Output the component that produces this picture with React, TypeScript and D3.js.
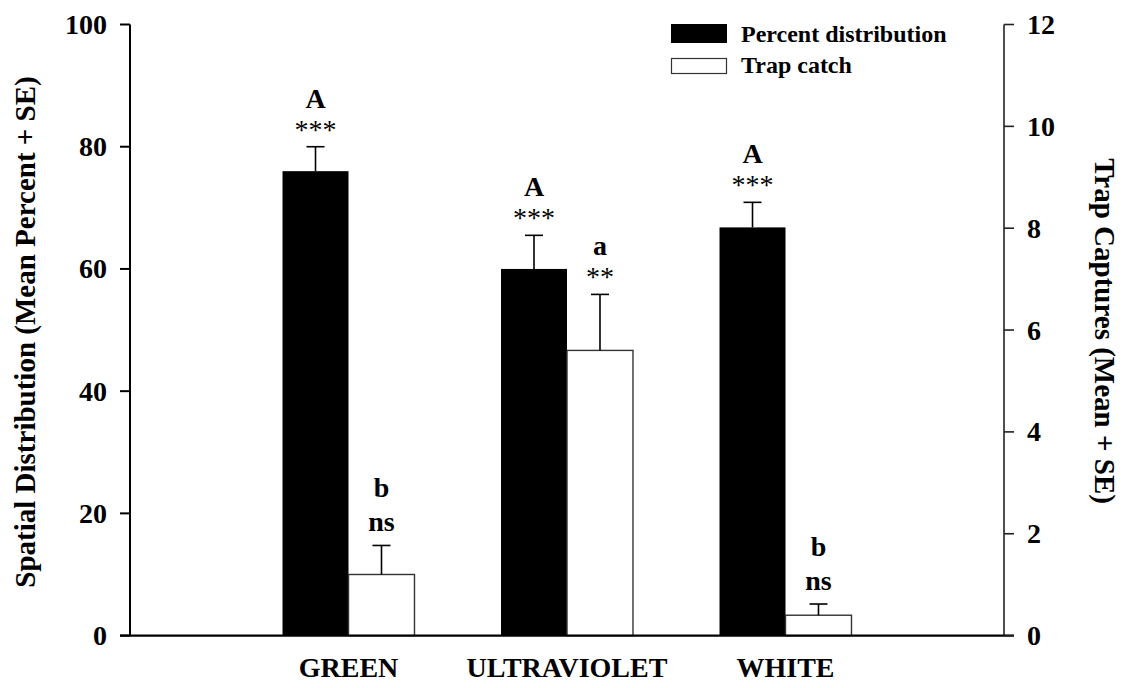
import React from "react";
import * as d3 from "d3";

// Data
const categories = ["GREEN", "ULTRAVIOLET", "WHITE"];
const percentMean = [76, 60, 66.8];
const percentSE = [4, 5.5, 4.1];
const trapMean = [1.2, 5.6, 0.4];
const trapSE = [0.57, 1.1, 0.22];
const percentLetters = ["A", "A", "A"];
const percentSig = ["***", "***", "***"];
const trapLetters = ["b", "a", "b"];
const trapSig = ["ns", "**", "ns"];
const leftTicks = [0, 20, 40, 60, 80, 100];
const rightTicks = [0, 2, 4, 6, 8, 10, 12];
const legendLabels = ["Percent distribution", "Trap catch"];

const W = 1130;
const H = 688;
const FONT = "'Liberation Serif', 'Times New Roman', serif";

export default function App() {
  const plotLeft = 130;
  const plotRight = 1004;
  const plotTop = 24.5;
  const plotBottom = 635.6;

  const x = d3.scaleLinear().domain([0, categories.length + 1]).range([plotLeft, plotRight]);
  const yL = d3.scaleLinear().domain([0, 100]).range([plotBottom, plotTop]);
  const yR = d3.scaleLinear().domain([0, 12]).range([plotBottom, plotTop]);
  const bw = x(0.302) - x(0);
  const capHalf = 9;

  const bars: React.ReactNode[] = [];
  categories.forEach((c, i) => {
    const cx = x(i + 1);
    // percent distribution (left axis)
    const pTop = yL(percentMean[i]);
    const pErr = yL(percentMean[i] + percentSE[i]);
    const pX = cx - bw / 2;
    bars.push(
      <g key={"p" + i}>
        <line x1={cx - bw / 2} x2={cx - bw / 2} y1={pTop} y2={pErr} stroke="#000" strokeWidth={1.6} />
        <line x1={pX - capHalf} x2={pX + capHalf} y1={pErr} y2={pErr} stroke="#000" strokeWidth={1.6} />
        <rect x={cx - bw} y={pTop} width={bw} height={plotBottom - pTop} fill="#000" />
        <text x={pX} y={pErr - 39} textAnchor="middle" fontSize={28} fontWeight="bold">{percentLetters[i]}</text>
        <text x={pX} y={pErr - 8} textAnchor="middle" fontSize={28} fontWeight="normal">{percentSig[i]}</text>
      </g>
    );
    // trap catch (right axis)
    const tTop = yR(trapMean[i]);
    const tErr = yR(trapMean[i] + trapSE[i]);
    const tX = cx + bw / 2;
    const isNs = trapSig[i] === "ns";
    bars.push(
      <g key={"t" + i}>
        <rect x={cx} y={tTop} width={bw} height={plotBottom - tTop} fill="#fff" stroke="#333" strokeWidth={1.4} />
        <line x1={tX} x2={tX} y1={tTop} y2={tErr} stroke="#000" strokeWidth={1.6} />
        <line x1={tX - capHalf} x2={tX + capHalf} y1={tErr} y2={tErr} stroke="#000" strokeWidth={1.6} />
        <text x={tX} y={tErr - (isNs ? 48 : 39)} textAnchor="middle" fontSize={28} fontWeight="bold">{trapLetters[i]}</text>
        <text x={tX} y={tErr - (isNs ? 14 : 8)} textAnchor="middle" fontSize={28} fontWeight={isNs ? "bold" : "normal"}>{trapSig[i]}</text>
      </g>
    );
  });

  return (
    <div style={{ position: "fixed", left: 0, top: 0 }}>
      <svg width={W} height={H} fontFamily={FONT} style={{ display: "block", background: "#fff" }}>
        {bars}
        {/* axes */}
        <line x1={plotLeft} x2={plotLeft} y1={plotTop} y2={plotBottom} stroke="#000" strokeWidth={2} />
        <line x1={plotRight} x2={plotRight} y1={plotTop} y2={plotBottom} stroke="#222" strokeWidth={1.6} />
        <line x1={plotLeft - 10} x2={plotRight + 10} y1={plotBottom} y2={plotBottom} stroke="#000" strokeWidth={2.4} />
        {leftTicks.map((t) => (
          <g key={"lt" + t}>
            <line x1={plotLeft - 10} x2={plotLeft} y1={yL(t)} y2={yL(t)} stroke="#000" strokeWidth={2} />
            <text x={107} y={yL(t) + 9.5} textAnchor="end" fontSize={28} fontWeight="bold">{t}</text>
          </g>
        ))}
        {rightTicks.map((t) => (
          <g key={"rt" + t}>
            <line x1={plotRight} x2={plotRight + 10} y1={yR(t)} y2={yR(t)} stroke="#222" strokeWidth={1.6} />
            <text x={1027} y={yR(t) + 9.5} textAnchor="start" fontSize={28} fontWeight="bold">{t}</text>
          </g>
        ))}
        {categories.map((c, i) => (
          <text key={c} x={x(i + 1)} y={677} textAnchor="middle" fontSize={28} fontWeight="bold">{c}</text>
        ))}
        {/* axis titles */}
        <text transform={`translate(35, 332) rotate(-90)`} textAnchor="middle" fontSize={29} fontWeight="bold">
          Spatial Distribution (Mean Percent + SE)
        </text>
        <text transform={`translate(1095, 331) rotate(90)`} textAnchor="middle" fontSize={29} fontWeight="bold">
          Trap Captures (Mean + SE)
        </text>
        {/* legend */}
        <rect x={671} y={24} width={56} height={19} fill="#000" />
        <text x={741} y={41.5} fontSize={24} fontWeight="bold">{legendLabels[0]}</text>
        <rect x={671.5} y={58.5} width={55} height={15} fill="#fff" stroke="#333" strokeWidth={1.2} />
        <text x={741} y={73} fontSize={24} fontWeight="bold">{legendLabels[1]}</text>
      </svg>
    </div>
  );
}
